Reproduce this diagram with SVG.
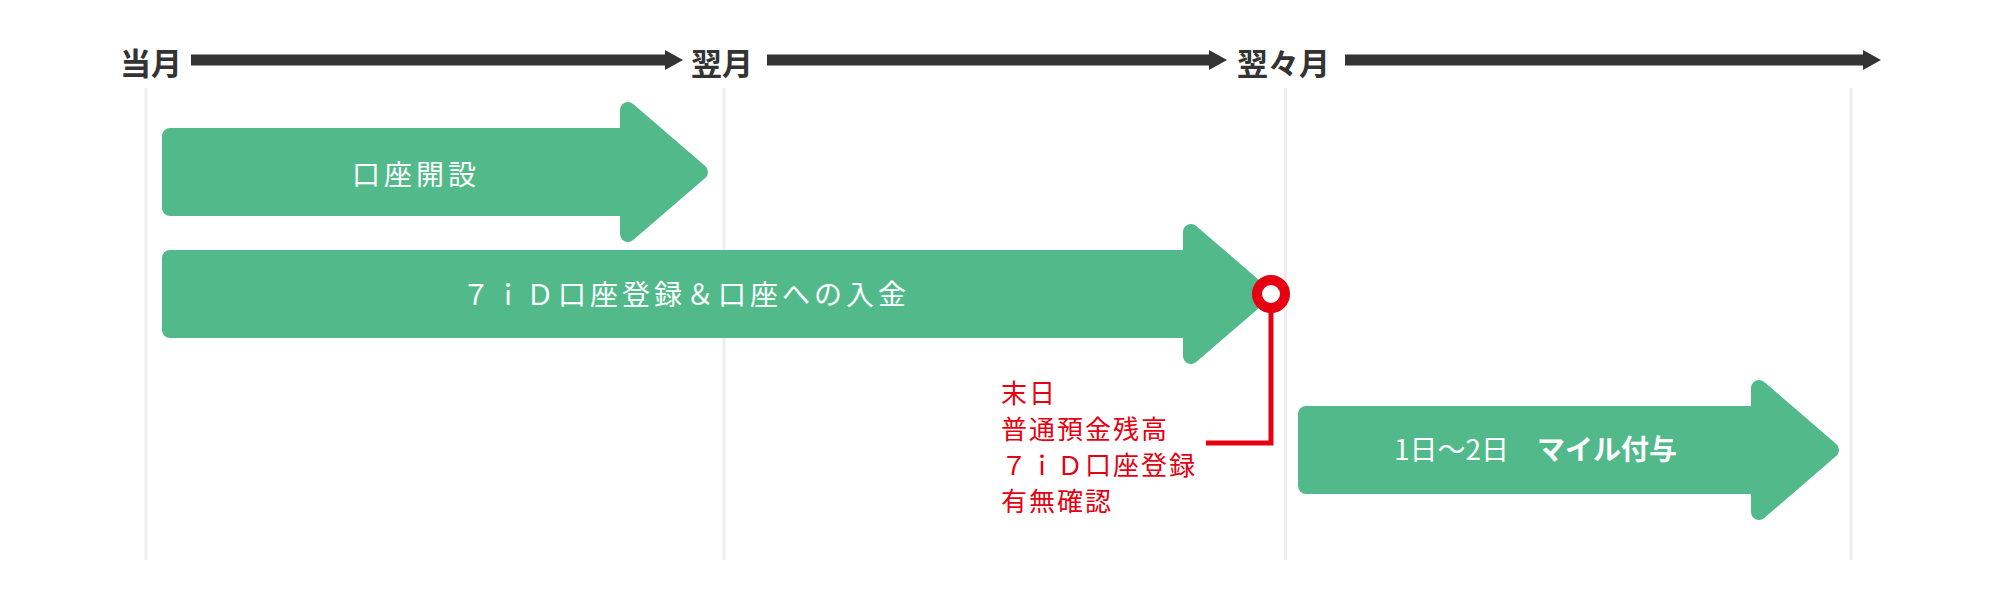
<svg xmlns="http://www.w3.org/2000/svg" width="2000" height="596" viewBox="0 0 2000 596">
<style>
.grid{stroke:#EEEEEE;stroke-width:3;fill:none}
.tl{stroke:#333333;stroke-width:11;fill:none}
.hd{font-family:"Noto Sans CJK JP","Noto Sans",sans-serif;font-size:31px;font-weight:700;fill:#333333}
.arr{fill:#52BA8A;stroke:#52BA8A;stroke-width:16;stroke-linejoin:round}
.lbl{font-family:"Noto Sans CJK JP","Noto Sans",sans-serif;font-size:28px;fill:#FFFFFF;letter-spacing:4px}
.red{font-family:"Noto Sans CJK JP","Noto Sans",sans-serif;font-size:26px;fill:#E50012;letter-spacing:2px}
.rl{stroke:#E50012;stroke-width:5;fill:none}
</style>
<defs>
<marker id="ah" markerUnits="userSpaceOnUse" markerWidth="18" markerHeight="20" refX="0" refY="10" orient="auto" viewBox="0 0 18 20">
<path d="M0,0 L18,10 L0,20 Z" fill="#333333"/>
</marker>
</defs>
<rect width="2000" height="596" fill="#FFFFFF"/>
<g id="gridlines">
<line class="grid" x1="146" y1="88" x2="146" y2="560"/>
<line class="grid" x1="724" y1="88" x2="724" y2="560"/>
<line class="grid" x1="1285.5" y1="88" x2="1285.5" y2="560"/>
<line class="grid" x1="1851" y1="88" x2="1851" y2="560"/>
</g>
<g id="header-this-month"><text class="hd" x="120" y="75">当月</text></g>
<g id="header-next-month"><text class="hd" x="691" y="75">翌月</text></g>
<g id="header-month-after"><text class="hd" x="1237" y="75">翌々月</text></g>
<g id="node-account-open">
<polygon class="arr" points="170,136 628,136 628,110 700,172 628,234 628,208 170,208"/>
<text class="lbl" x="416" y="185" text-anchor="middle">口座開設</text>
</g>
<g id="node-7id-deposit">
<polygon class="arr" points="170,258 1191,258 1191,232 1263,294 1191,356 1191,330 170,330"/>
<text class="lbl" x="686" y="305" text-anchor="middle">７ｉＤ口座登録＆口座への入金</text>
</g>
<g id="node-miles">
<polygon class="arr" points="1306,414 1759,414 1759,388 1831,450 1759,512 1759,486 1306,486"/>
<text class="lbl" x="1394" y="460" style="letter-spacing:0px">1日〜2日　<tspan font-weight="700">マイル付与</tspan></text>
</g>
<g id="node-check-note">
<text class="red" x="1001" y="403">末日</text>
<text class="red" x="1001" y="439">普通預金残高</text>
<text class="red" x="1001" y="475">７ｉＤ口座登録</text>
<text class="red" x="1001" y="511">有無確認</text>
</g>
<g id="connectors">
<line class="tl" x1="191" y1="60" x2="665" y2="60" marker-end="url(#ah)"/>
<line class="tl" x1="767" y1="60" x2="1209" y2="60" marker-end="url(#ah)"/>
<line class="tl" x1="1345" y1="60" x2="1863" y2="60" marker-end="url(#ah)"/>
<path class="rl" d="M1206,443 H1271 V305"/>
<circle cx="1271" cy="294" r="14" fill="#FFFFFF" stroke="#E50012" stroke-width="10"/>
</g>
</svg>
